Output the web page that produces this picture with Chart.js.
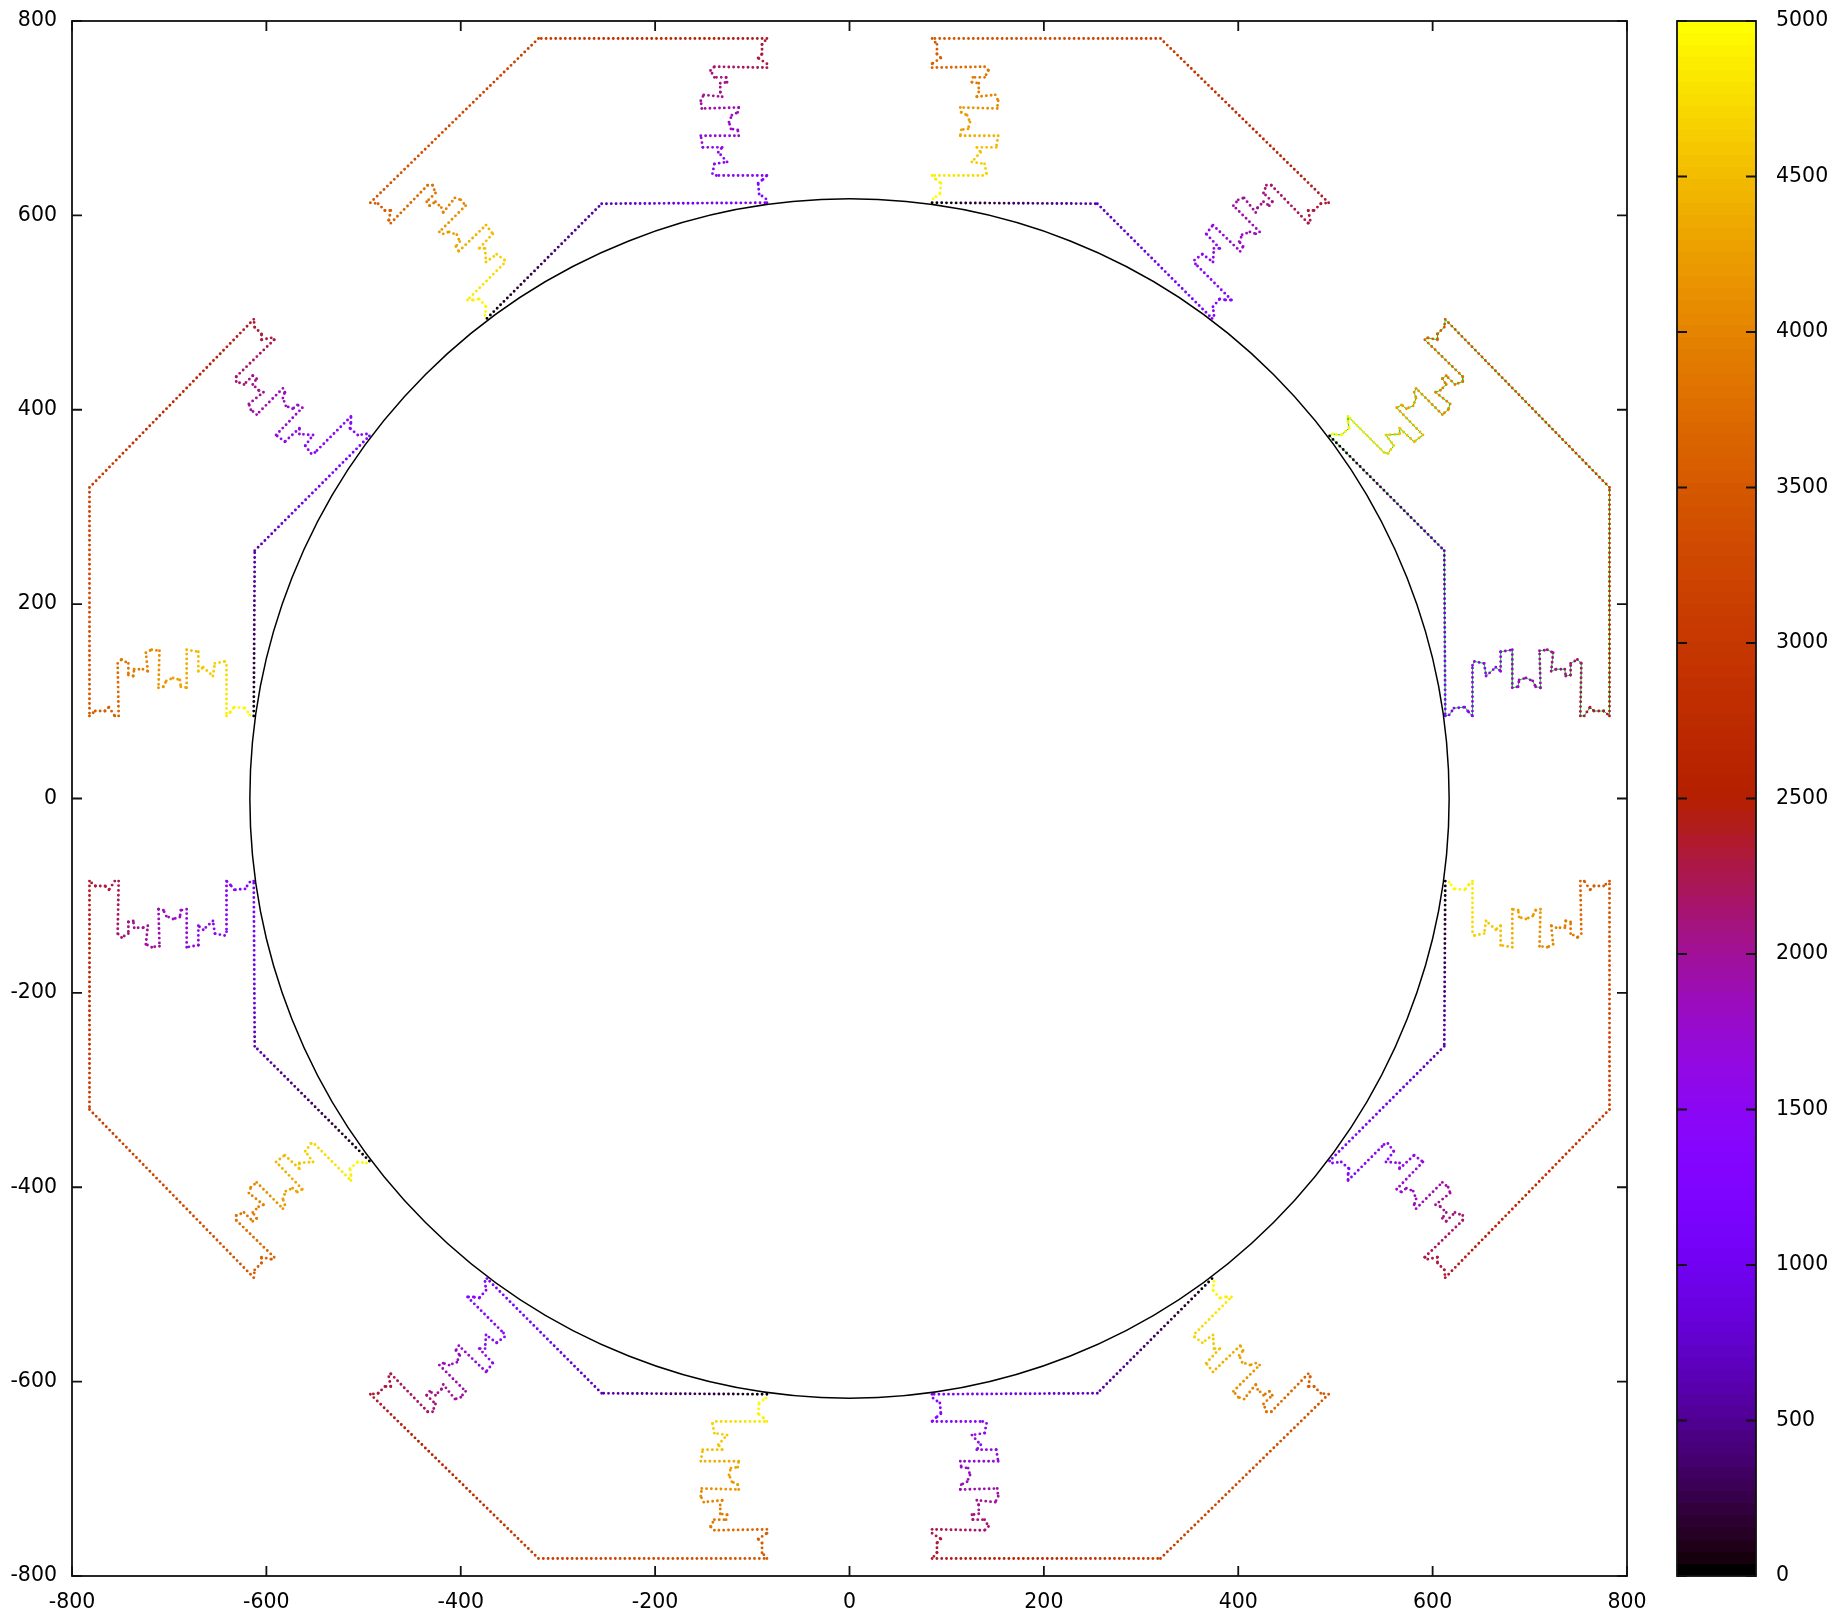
<!DOCTYPE html>
<html>
<head>
<meta charset="utf-8">
<title>Sweep</title>
<script src="https://cdn.jsdelivr.net/npm/chart.js@4"></script>
<style>
    html, body { margin: 0; padding: 0; background: #ffffff; }
    #plot { position: absolute; left: 0; top: 0; }
    #bar { position: absolute; left: 1660px; top: 0; }
</style>
</head>
<body>
<canvas id="plot" width="1660" height="1614"></canvas>
<canvas id="bar" width="175" height="1614"></canvas>
<script>
const axisTicks = [-800, -600, -400, -200, 0, 200, 400, 600, 800];
const colorTicks = [0, 500, 1000, 1500, 2000, 2500, 3000, 3500, 4000, 4500, 5000];
const circleRadius = 617;

// colour value at each vertex, same order along every sector outline
const sweepValues = [0, 600,
    1300, 1310, 1330, 1360, 1370, 1380, 1500, 1510, 1530, 1560, 1590, 1600, 1650, 1680, 1770, 1780, 1800, 1810, 1830, 1850, 1860, 1940, 1960, 1980, 2020, 2030, 2050, 2070, 2080, 2110, 2130, 2140, 2260, 2270, 2300, 2310, 2330, 2350,
    3100,
    3500, 3530, 3560, 3580, 3610, 3630, 3800, 3820, 3850, 3890, 3900, 3930, 3960, 3970, 4030, 4060, 4080, 4210, 4220, 4240, 4270, 4290, 4320, 4330, 4460, 4500, 4570, 4580, 4630, 4670, 4700, 4710, 4880, 4900, 4920, 4960, 4990, 5000];

const sector1X = [85, 255, 373, 375, 374, 381, 387, 393, 356, 355, 363, 374, 375, 381, 367, 374, 402, 405, 401, 404, 412, 418, 422, 395, 400, 406, 418, 420, 426, 432, 435, 426, 429, 434, 472, 474, 472, 478, 485, 493, 320, 85, 90, 90, 94, 85, 85, 139, 143, 139, 127, 126, 133, 133, 131, 150, 153, 152, 114, 115, 121, 124, 122, 115, 114, 153, 151, 131, 135, 126, 139, 141, 137, 85, 89, 94, 93, 86, 85];
const sector1Y = [613, 612, 494, 497, 506, 514, 513, 513, 550, 554, 560, 552, 566, 566, 581, 590, 563, 568, 573, 580, 583, 581, 583, 610, 616, 618, 603, 608, 614, 610, 614, 623, 631, 631, 592, 595, 605, 605, 612, 613, 782, 782, 776, 766, 762, 756, 752, 753, 749, 742, 742, 737, 736, 727, 722, 724, 718, 710, 711, 706, 703, 696, 689, 688, 682, 682, 670, 670, 665, 655, 653, 643, 641, 641, 637, 633, 622, 617, 613];

const sector2X = [-373, -255, -85, -86, -93, -94, -89, -85, -137, -141, -139, -126, -135, -131, -151, -153, -114, -115, -122, -124, -121, -115, -114, -152, -153, -150, -131, -133, -133, -126, -127, -139, -143, -139, -85, -85, -94, -90, -90, -85, -320, -493, -485, -478, -472, -474, -472, -434, -429, -426, -435, -432, -426, -420, -418, -406, -400, -395, -422, -418, -412, -404, -401, -405, -402, -374, -367, -381, -375, -374, -363, -355, -356, -393, -387, -381, -374, -375, -373];
const sector2Y = [494, 612, 613, 617, 622, 633, 637, 641, 641, 643, 653, 655, 665, 670, 670, 682, 682, 688, 689, 696, 703, 706, 711, 710, 718, 724, 722, 727, 736, 737, 742, 742, 749, 753, 752, 756, 762, 766, 776, 782, 782, 613, 612, 605, 605, 595, 592, 631, 631, 623, 614, 610, 614, 608, 603, 618, 616, 610, 583, 581, 583, 580, 573, 568, 563, 590, 581, 566, 566, 552, 560, 554, 550, 513, 513, 514, 506, 497, 494];

const sector3X = [-613, -612, -494, -497, -506, -514, -513, -513, -550, -554, -560, -552, -566, -566, -581, -590, -563, -568, -573, -580, -583, -581, -583, -610, -616, -618, -603, -608, -614, -610, -614, -623, -631, -631, -592, -595, -605, -605, -612, -613, -782, -782, -776, -766, -762, -756, -752, -753, -749, -742, -742, -737, -736, -727, -722, -724, -718, -710, -711, -706, -703, -696, -689, -688, -682, -682, -670, -670, -665, -655, -653, -643, -641, -641, -637, -633, -622, -617, -613];
const sector3Y = [85, 255, 373, 375, 374, 381, 387, 393, 356, 355, 363, 374, 375, 381, 367, 374, 402, 405, 401, 404, 412, 418, 422, 395, 400, 406, 418, 420, 426, 432, 435, 426, 429, 434, 472, 474, 472, 478, 485, 493, 320, 85, 90, 90, 94, 85, 85, 139, 143, 139, 127, 126, 133, 133, 131, 150, 153, 152, 114, 115, 121, 124, 122, 115, 114, 153, 151, 131, 135, 126, 139, 141, 137, 85, 89, 94, 93, 86, 85];

const sector4X = [-494, -612, -613, -617, -622, -633, -637, -641, -641, -643, -653, -655, -665, -670, -670, -682, -682, -688, -689, -696, -703, -706, -711, -710, -718, -724, -722, -727, -736, -737, -742, -742, -749, -753, -752, -756, -762, -766, -776, -782, -782, -613, -612, -605, -605, -595, -592, -631, -631, -623, -614, -610, -614, -608, -603, -618, -616, -610, -583, -581, -583, -580, -573, -568, -563, -590, -581, -566, -566, -552, -560, -554, -550, -513, -513, -514, -506, -497, -494];
const sector4Y = [-373, -255, -85, -86, -93, -94, -89, -85, -137, -141, -139, -126, -135, -131, -151, -153, -114, -115, -122, -124, -121, -115, -114, -152, -153, -150, -131, -133, -133, -126, -127, -139, -143, -139, -85, -85, -94, -90, -90, -85, -320, -493, -485, -478, -472, -474, -472, -434, -429, -426, -435, -432, -426, -420, -418, -406, -400, -395, -422, -418, -412, -404, -401, -405, -402, -374, -367, -381, -375, -374, -363, -355, -356, -393, -387, -381, -374, -375, -373];

const sector5X = [-85, -255, -373, -375, -374, -381, -387, -393, -356, -355, -363, -374, -375, -381, -367, -374, -402, -405, -401, -404, -412, -418, -422, -395, -400, -406, -418, -420, -426, -432, -435, -426, -429, -434, -472, -474, -472, -478, -485, -493, -320, -85, -90, -90, -94, -85, -85, -139, -143, -139, -127, -126, -133, -133, -131, -150, -153, -152, -114, -115, -121, -124, -122, -115, -114, -153, -151, -131, -135, -126, -139, -141, -137, -85, -89, -94, -93, -86, -85];
const sector5Y = [-613, -612, -494, -497, -506, -514, -513, -513, -550, -554, -560, -552, -566, -566, -581, -590, -563, -568, -573, -580, -583, -581, -583, -610, -616, -618, -603, -608, -614, -610, -614, -623, -631, -631, -592, -595, -605, -605, -612, -613, -782, -782, -776, -766, -762, -756, -752, -753, -749, -742, -742, -737, -736, -727, -722, -724, -718, -710, -711, -706, -703, -696, -689, -688, -682, -682, -670, -670, -665, -655, -653, -643, -641, -641, -637, -633, -622, -617, -613];

const sector6X = [373, 255, 85, 86, 93, 94, 89, 85, 137, 141, 139, 126, 135, 131, 151, 153, 114, 115, 122, 124, 121, 115, 114, 152, 153, 150, 131, 133, 133, 126, 127, 139, 143, 139, 85, 85, 94, 90, 90, 85, 320, 493, 485, 478, 472, 474, 472, 434, 429, 426, 435, 432, 426, 420, 418, 406, 400, 395, 422, 418, 412, 404, 401, 405, 402, 374, 367, 381, 375, 374, 363, 355, 356, 393, 387, 381, 374, 375, 373];
const sector6Y = [-494, -612, -613, -617, -622, -633, -637, -641, -641, -643, -653, -655, -665, -670, -670, -682, -682, -688, -689, -696, -703, -706, -711, -710, -718, -724, -722, -727, -736, -737, -742, -742, -749, -753, -752, -756, -762, -766, -776, -782, -782, -613, -612, -605, -605, -595, -592, -631, -631, -623, -614, -610, -614, -608, -603, -618, -616, -610, -583, -581, -583, -580, -573, -568, -563, -590, -581, -566, -566, -552, -560, -554, -550, -513, -513, -514, -506, -497, -494];

const sector7X = [613, 612, 494, 497, 506, 514, 513, 513, 550, 554, 560, 552, 566, 566, 581, 590, 563, 568, 573, 580, 583, 581, 583, 610, 616, 618, 603, 608, 614, 610, 614, 623, 631, 631, 592, 595, 605, 605, 612, 613, 782, 782, 776, 766, 762, 756, 752, 753, 749, 742, 742, 737, 736, 727, 722, 724, 718, 710, 711, 706, 703, 696, 689, 688, 682, 682, 670, 670, 665, 655, 653, 643, 641, 641, 637, 633, 622, 617, 613];
const sector7Y = [-85, -255, -373, -375, -374, -381, -387, -393, -356, -355, -363, -374, -375, -381, -367, -374, -402, -405, -401, -404, -412, -418, -422, -395, -400, -406, -418, -420, -426, -432, -435, -426, -429, -434, -472, -474, -472, -478, -485, -493, -320, -85, -90, -90, -94, -85, -85, -139, -143, -139, -127, -126, -133, -133, -131, -150, -153, -152, -114, -115, -121, -124, -122, -115, -114, -153, -151, -131, -135, -126, -139, -141, -137, -85, -89, -94, -93, -86, -85];

const sector8X = [494, 612, 613, 617, 622, 633, 637, 641, 641, 643, 653, 655, 665, 670, 670, 682, 682, 688, 689, 696, 703, 706, 711, 710, 718, 724, 722, 727, 736, 737, 742, 742, 749, 753, 752, 756, 762, 766, 776, 782, 782, 613, 612, 605, 605, 595, 592, 631, 631, 623, 614, 610, 614, 608, 603, 618, 616, 610, 583, 581, 583, 580, 573, 568, 563, 590, 581, 566, 566, 552, 560, 554, 550, 513, 513, 514, 506, 497, 494];
const sector8Y = [373, 255, 85, 86, 93, 94, 89, 85, 137, 141, 139, 126, 135, 131, 151, 153, 114, 115, 122, 124, 121, 115, 114, 152, 153, 150, 131, 133, 133, 126, 127, 139, 143, 139, 85, 85, 94, 90, 90, 85, 320, 493, 485, 478, 472, 474, 472, 434, 429, 426, 435, 432, 426, 420, 418, 406, 400, 395, 422, 418, 412, 404, 401, 405, 402, 374, 367, 381, 375, 374, 363, 355, 356, 393, 387, 381, 374, 375, 373];

const sectorXs = [sector1X, sector2X, sector3X, sector4X, sector5X, sector6X, sector7X, sector8X];
const sectorYs = [sector1Y, sector2Y, sector3Y, sector4Y, sector5Y, sector6Y, sector7Y, sector8Y];

const FONT = { family: '"DejaVu Sans"', size: 20.5 };
const FRAME_COLOR = '#111111';
const dotDash = [0, 4.8];
const dotWidth = 2.9;

// gnuplot default palette (rgbformulae 7,5,15)
function paletteColor(value) {
    const v = Math.min(Math.max(value / 5000, 0), 1);
    const r = Math.sqrt(v);
    const g = v * v * v;
    const b = Math.max(Math.sin(2 * Math.PI * v), 0);
    return 'rgb(' + Math.round(r * 255) + ',' + Math.round(g * 255) + ',' + Math.round(b * 255) + ')';
}

function segmentColor(ctx) {
    const a = sweepValues[ctx.p0DataIndex];
    const b = sweepValues[ctx.p1DataIndex];
    const grad = ctx.chart.ctx.createLinearGradient(ctx.p0.x, ctx.p0.y, ctx.p1.x, ctx.p1.y);
    for (let i = 0; i <= 4; i++) {
        grad.addColorStop(i / 4, paletteColor(a + (b - a) * i / 4));
    }
    return grad;
}

// no extra room for the tick labels, the plot box stays where the layout puts it
function fixScale(s, size) {
    if (s.isHorizontal()) s.height = size; else s.width = size;
    s.paddingTop = 0;
    s.paddingBottom = 0;
    s.paddingLeft = 0;
    s.paddingRight = 0;
}

const plotDecor = {
    id: 'plotDecor',
    afterDatasetsDraw(chart) {
        const c = chart.ctx;
        const area = chart.chartArea;
        const x = chart.scales.x;
        const y = chart.scales.y;
        c.save();
        c.strokeStyle = '#000000';
        c.lineWidth = 1.5;
        c.beginPath();
        c.ellipse(x.getPixelForValue(0), y.getPixelForValue(0),
            x.getPixelForValue(circleRadius) - x.getPixelForValue(0),
            y.getPixelForValue(0) - y.getPixelForValue(circleRadius), 0, 0, Math.PI * 2);
        c.stroke();
        // frame and inward ticks, gnuplot style
        c.strokeStyle = FRAME_COLOR;
        c.lineWidth = 1.8;
        c.strokeRect(area.left, area.top, area.right - area.left, area.bottom - area.top);
        c.beginPath();
        axisTicks.forEach(function (v) {
            const px = x.getPixelForValue(v);
            c.moveTo(px, area.bottom);
            c.lineTo(px, area.bottom - 10);
            c.moveTo(px, area.top);
            c.lineTo(px, area.top + 10);
            const py = y.getPixelForValue(v);
            c.moveTo(area.left, py);
            c.lineTo(area.left + 10, py);
            c.moveTo(area.right, py);
            c.lineTo(area.right - 10, py);
        });
        c.stroke();
        c.restore();
    }
};

const datasets = [];
sectorXs.forEach(function (xs, i) {
    const points = xs.map(function (x, k) { return { x: x, y: sectorYs[i][k] }; });
    datasets.push({
        data: points,
        showLine: true,
        pointRadius: 0,
        borderWidth: dotWidth,
        borderCapStyle: 'round',
        borderDash: dotDash,
        borderColor: '#000000',
        tension: 0,
        order: 1,
        segment: {
            borderColor: segmentColor,
            borderDash: dotDash,
            borderCapStyle: 'round',
            borderWidth: dotWidth
        }
    });
});
// the last sector also has a thin green trace under its dots
datasets.push({
    data: sector8X.map(function (x, k) { return { x: x, y: sector8Y[k] }; }),
    showLine: true,
    pointRadius: 0,
    borderWidth: 1,
    borderColor: '#00e000',
    order: 2
});

new Chart(document.getElementById('plot').getContext('2d'), {
    type: 'scatter',
    data: { datasets: datasets },
    plugins: [plotDecor],
    options: {
        responsive: false,
        animation: false,
        layout: { padding: { left: 0, top: 21, right: 33, bottom: 0 } },
        plugins: { legend: { display: false }, tooltip: { enabled: false } },
        scales: {
            x: {
                type: 'linear',
                min: -800,
                max: 800,
                afterBuildTicks: function (s) { s.ticks = axisTicks.map(function (v) { return { value: v }; }); },
                afterFit: function (s) { fixScale(s, 38); },
                grid: { display: false, drawTicks: false },
                border: { display: false },
                ticks: { color: '#000000', font: FONT, padding: 14, maxRotation: 0, autoSkip: false, callback: function (v) { return String(v); } }
            },
            y: {
                type: 'linear',
                min: -800,
                max: 800,
                afterBuildTicks: function (s) { s.ticks = axisTicks.map(function (v) { return { value: v }; }); },
                afterFit: function (s) { fixScale(s, 72); },
                grid: { display: false, drawTicks: false },
                border: { display: false },
                ticks: { color: '#000000', font: FONT, padding: 15, autoSkip: false, callback: function (v) { return String(v); } }
            }
        }
    }
});

// colour box: 128 flat levels like the gnuplot one
function boxGradient(chart) {
    const area = chart.chartArea;
    if (!area) return '#000000';
    const grad = chart.ctx.createLinearGradient(0, area.bottom, 0, area.top);
    const levels = 128;
    for (let i = 0; i < levels; i++) {
        const col = paletteColor(5000 * i / (levels - 1));
        grad.addColorStop(i / levels, col);
        grad.addColorStop((i + 1) / levels, col);
    }
    return grad;
}

const barDecor = {
    id: 'barDecor',
    afterDatasetsDraw(chart) {
        const c = chart.ctx;
        const area = chart.chartArea;
        const y = chart.scales.y;
        c.save();
        c.strokeStyle = FRAME_COLOR;
        c.lineWidth = 1.8;
        c.strokeRect(area.left, area.top, area.right - area.left, area.bottom - area.top);
        c.beginPath();
        colorTicks.forEach(function (v) {
            const py = y.getPixelForValue(v);
            c.moveTo(area.left, py);
            c.lineTo(area.left + 10, py);
            c.moveTo(area.right, py);
            c.lineTo(area.right - 10, py);
        });
        c.stroke();
        c.restore();
    }
};

new Chart(document.getElementById('bar').getContext('2d'), {
    type: 'bar',
    data: {
        labels: [''],
        datasets: [{
            data: [5000],
            barPercentage: 1,
            categoryPercentage: 1,
            backgroundColor: function (ctx) { return boxGradient(ctx.chart); }
        }]
    },
    plugins: [barDecor],
    options: {
        responsive: false,
        animation: false,
        layout: { padding: { left: 17, top: 21, right: 0, bottom: 38 } },
        plugins: { legend: { display: false }, tooltip: { enabled: false } },
        scales: {
            x: { display: false },
            y: {
                position: 'right',
                min: 0,
                max: 5000,
                afterBuildTicks: function (s) { s.ticks = colorTicks.map(function (v) { return { value: v }; }); },
                afterFit: function (s) { fixScale(s, 79); },
                grid: { display: false, drawTicks: false },
                border: { display: false },
                ticks: { color: '#000000', font: FONT, padding: 20, autoSkip: false, callback: function (v) { return String(v); } }
            }
        }
    }
});
</script>
</body>
</html>
